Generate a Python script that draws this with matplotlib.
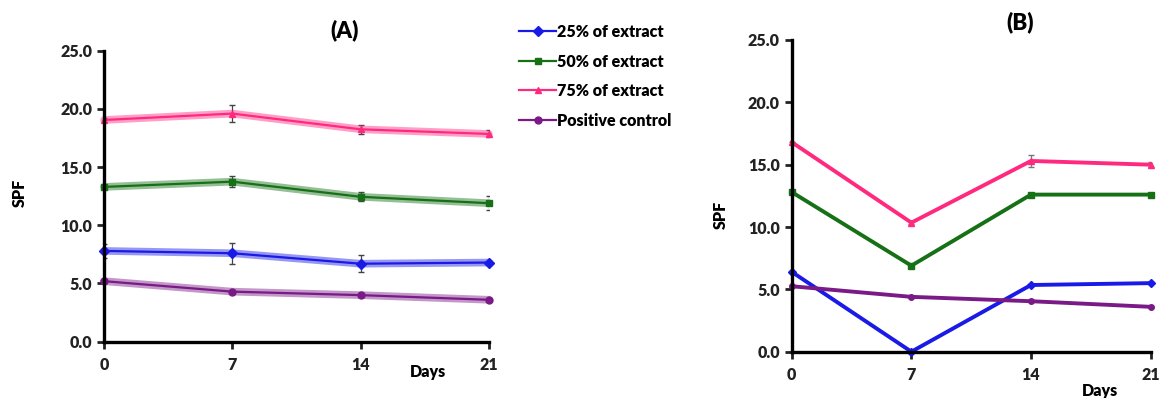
import matplotlib
matplotlib.use("Agg")
import matplotlib.pyplot as plt

days = [0, 7, 14, 21]
labels = ["25% of extract", "50% of extract", "75% of extract", "Positive control"]

# panel A: mean SPF and error
a_25 = [7.8, 7.6, 6.7, 6.8]
a_50 = [13.3, 13.75, 12.45, 11.9]
a_75 = [19.05, 19.6, 18.25, 17.85]
a_pc = [5.2, 4.3, 4.0, 3.6]
a_25_err = [0.6, 0.9, 0.75, 0.15]
a_50_err = [0.2, 0.45, 0.4, 0.6]
a_75_err = [0.2, 0.7, 0.4, 0.3]
a_pc_err = [0.15, 0.15, 0.15, 0.1]

# panel B
b_25 = [6.4, 0.0, 5.35, 5.5]
b_50 = [12.8, 6.9, 12.6, 12.6]
b_75 = [16.8, 10.35, 15.3, 15.0]
b_pc = [5.25, 4.4, 4.05, 3.6]
b_25_err = [0.0, 0.0, 0.1, 0.1]
b_50_err = [0.0, 0.0, 0.1, 0.1]
b_75_err = [0.0, 0.1, 0.5, 0.2]
b_pc_err = [0.0, 0.0, 0.0, 0.0]

colors = ["#1a1ae6", "#167016", "#ff2a7f", "#7a1a86"]
markers = ["D", "s", "^", "o"]

plt.rcParams["font.family"] = ["Lato", "DejaVu Sans"]
plt.rcParams["font.weight"] = "bold"

fig = plt.figure(figsize=(11.61, 3.98), dpi=100)
ax_a = fig.add_axes([0.0896, 0.1415, 0.3315, 0.731])
ax_b = fig.add_axes([0.682, 0.1163, 0.309, 0.7832])


def style_axis(ax):
    ax.set_xlim(0, 21)
    ax.set_ylim(0, 25)
    ax.set_xticks(days)
    ax.set_yticks([0, 5, 10, 15, 20, 25])
    ax.set_yticklabels([f"{v:.1f}" for v in [0, 5, 10, 15, 20, 25]])
    for side in ("top", "right"):
        ax.spines[side].set_visible(False)
    for side in ("left", "bottom"):
        ax.spines[side].set_linewidth(2.4)
        ax.spines[side].set_zorder(5)
    ax.tick_params(width=2, length=5, labelsize=11.5, colors="#222222")
    ax.tick_params(axis="x", pad=6)
    for lab in ax.get_xticklabels() + ax.get_yticklabels():
        lab.set_fontweight("heavy")


series_a = [(a_25, a_25_err), (a_50, a_50_err), (a_75, a_75_err), (a_pc, a_pc_err)]
handles = []
for (vals, err), c, m, lab in zip(series_a, colors, markers, labels):
    ax_a.errorbar(days, vals, yerr=err, fmt="none", ecolor="#444444",
                  elinewidth=0.9, capsize=2.5, zorder=2)
    ax_a.plot(days, vals, color=c, linewidth=5.5, alpha=0.45, zorder=3,
              solid_capstyle="round", clip_on=False)
    h, = ax_a.plot(days, vals, color=c, linewidth=1.6, marker=m,
                   markersize=5, zorder=4, clip_on=False, label=lab)
    handles.append(h)

series_b = [(b_25, b_25_err), (b_50, b_50_err), (b_75, b_75_err), (b_pc, b_pc_err)]
for (vals, err), c, m in zip(series_b, colors, markers):
    ax_b.errorbar(days, vals, yerr=err, fmt="none", ecolor="#777777",
                  elinewidth=0.9, capsize=2.5, zorder=2)
    ax_b.plot(days, vals, color=c, linewidth=2.8, marker=m, markersize=4,
              zorder=3, clip_on=False)

style_axis(ax_a)
style_axis(ax_b)

fig.text(20 / 1161, 1 - 193 / 398, "SPF", ha="center", va="center",
         rotation=90, fontsize=11.5, fontweight="heavy")
fig.text(721 / 1161, 1 - 215 / 398, "SPF", ha="center", va="center",
         rotation=90, fontsize=11.5, fontweight="heavy")
fig.text(345 / 1161, 1 - 30 / 398, "(A)", ha="center", va="center",
         fontsize=16, fontweight="heavy")
fig.text(1020 / 1161, 1 - 22 / 398, "(B)", ha="center", va="center",
         fontsize=16, fontweight="heavy")
fig.text(428 / 1161, 1 - 372 / 398, "Days", ha="center", va="center",
         fontsize=11.5, fontweight="heavy")
fig.text(1100 / 1161, 1 - 391 / 398, "Days", ha="center", va="center",
         fontsize=11.5, fontweight="heavy")

fig.legend(handles=handles, loc="upper left", bbox_to_anchor=(0.435, 0.976),
           frameon=False, handlelength=2.3, handletextpad=0.05,
           labelspacing=0.85, prop={"weight": "heavy", "size": 11.5})

fig.savefig("out.png", dpi=100)
